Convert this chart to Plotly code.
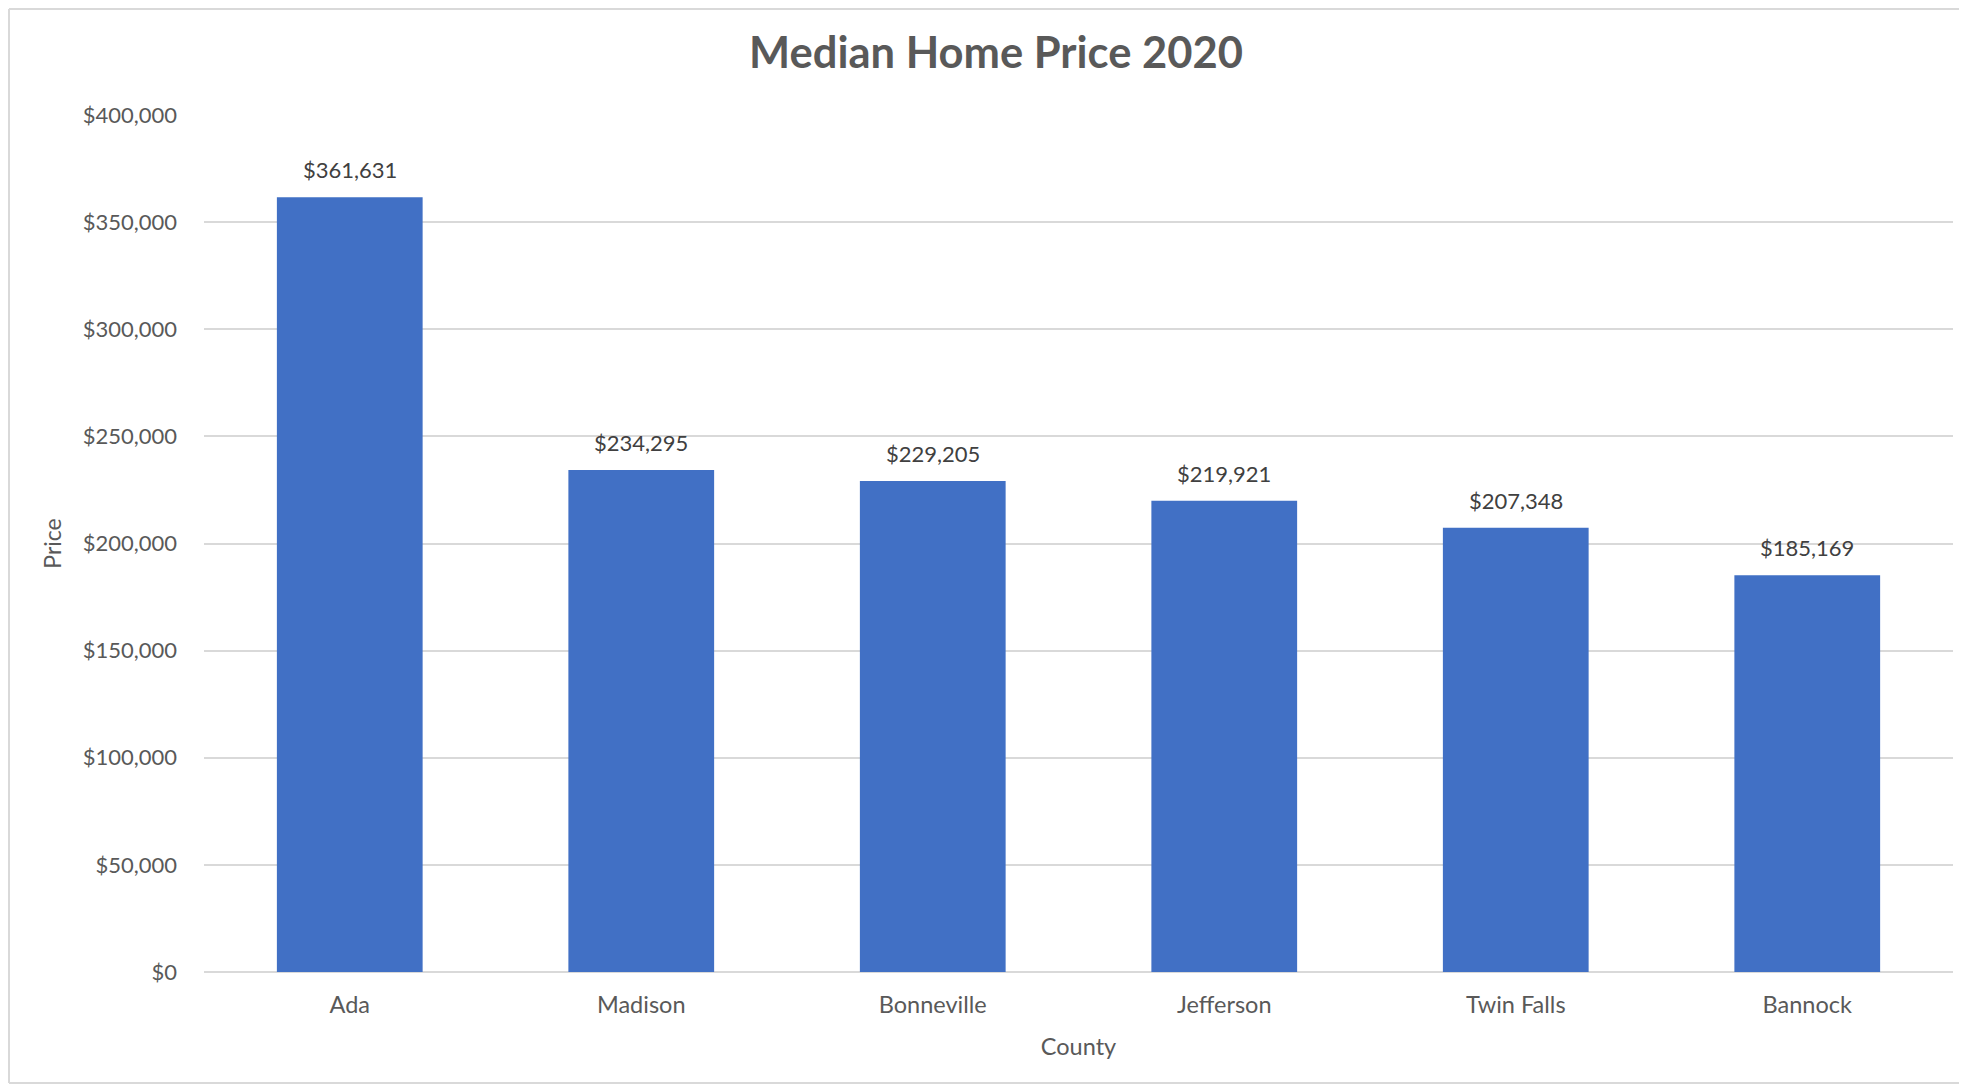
import plotly.graph_objects as go

# County median home prices, 2020
counties = ['Ada', 'Madison', 'Bonneville', 'Jefferson', 'Twin Falls', 'Bannock']
prices = [361631, 234295, 229205, 219921, 207348, 185169]
y_ticks = [0, 50000, 100000, 150000, 200000, 250000, 300000, 350000, 400000]
y_tick_text = ['$' + format(v, ',') for v in y_ticks]

FONT = 'Lato'
GREY = '#595959'

fig = go.Figure()
fig.add_trace(go.Bar(
    x=counties,
    y=prices,
    marker=dict(color='#4170C5', line=dict(width=0)),
    hoverinfo='x+y',
))

# value labels above each bar
for c, p in zip(counties, prices):
    fig.add_annotation(
        x=c, y=p, text='$' + format(p, ','),
        showarrow=False, yanchor='bottom', yshift=12,
        font=dict(family=FONT, size=22, color='#404040'),
    )

# light outer frame like the Excel chart (left, top and bottom edges only)
frame = dict(color='#d9d9d9', width=2)
x_left, x_right, y_bot, y_top = -0.1115, 1.01, -0.1295, 1.1237
fig.add_shape(type='line', xref='paper', yref='paper', x0=x_left, x1=x_left,
              y0=y_bot, y1=y_top, line=frame, layer='below')
fig.add_shape(type='line', xref='paper', yref='paper', x0=x_left, x1=x_right,
              y0=y_top, y1=y_top, line=frame, layer='below')
fig.add_shape(type='line', xref='paper', yref='paper', x0=x_left, x1=x_right,
              y0=y_bot, y1=y_bot, line=frame, layer='below')

fig.update_layout(
    width=1951, height=1076,
    margin=dict(l=196, r=6, t=107, b=112),
    paper_bgcolor='white', plot_bgcolor='white',
    bargap=0.5,
    showlegend=False,
    font=dict(family=FONT, color=GREY),
    title=dict(text='<b>Median Home Price 2020</b>', x=0.5064, xref='container',
               y=1 - 45 / 1076, yanchor='middle',
               font=dict(family=FONT, size=43.5, color=GREY)),
)
fig.update_yaxes(
    range=[0, 400000], tickvals=y_ticks, ticktext=y_tick_text,
    showgrid=True, gridcolor='#d9d9d9', gridwidth=1.5,
    zeroline=True, zerolinecolor='#d9d9d9', zerolinewidth=1.5,
    showline=False, ticks='', ticklabelstandoff=26,
    tickfont=dict(family=FONT, size=22, color=GREY),
    title=dict(text='Price', standoff=14, font=dict(family=FONT, size=23, color=GREY)),
)
fig.update_xaxes(
    showgrid=False, showline=False, ticks='', ticklabelstandoff=16,
    tickfont=dict(family=FONT, size=23.5, color=GREY),
    title=dict(text='County', standoff=22, font=dict(family=FONT, size=23.5, color=GREY)),
)

fig.write_html("out.html")
